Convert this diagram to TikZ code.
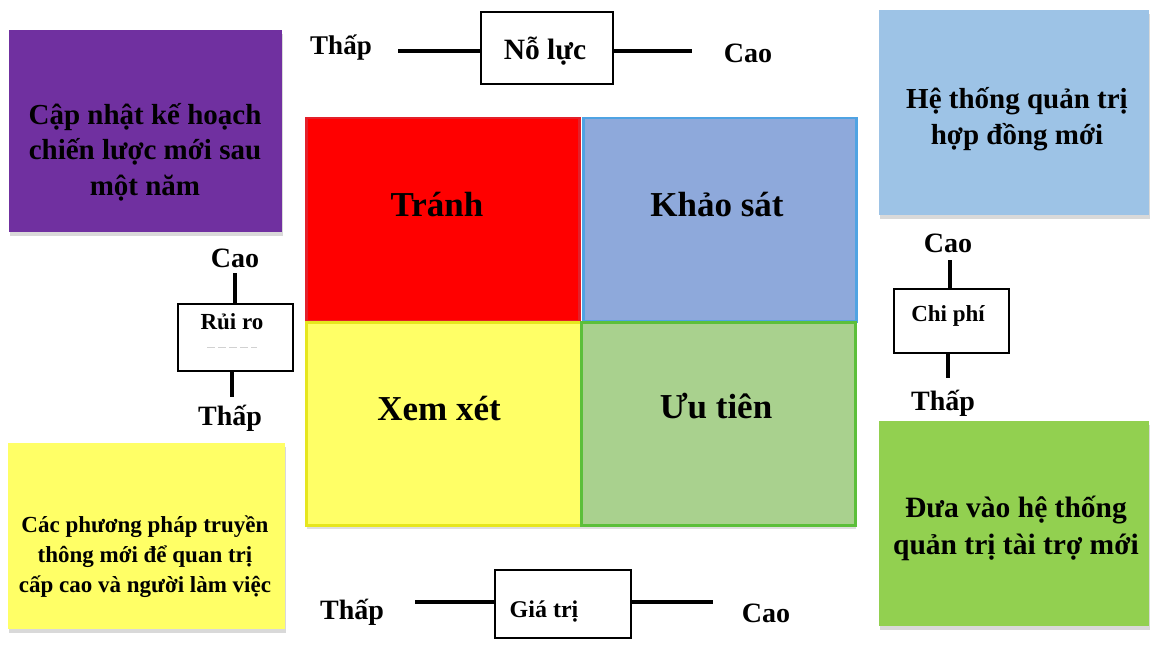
\documentclass[tikz,border=0pt]{standalone}
\usepackage{fontspec}
\setmainfont{Liberation Serif}
\usetikzlibrary{shadows}

\definecolor{boxpurple}{HTML}{7030A0}
\definecolor{boxsky}{HTML}{9DC3E6}
\definecolor{boxlime}{HTML}{92D050}
\definecolor{boxlemon}{HTML}{FFFF66}
\definecolor{qred}{HTML}{FF0000}
\definecolor{qredb}{HTML}{E3202A}
\definecolor{qblue}{HTML}{8EA9DB}
\definecolor{qblueb}{HTML}{4FA3E3}
\definecolor{qyellow}{HTML}{FFFF66}
\definecolor{qyellowb}{HTML}{E6E61E}
\definecolor{qgreen}{HTML}{A9D18E}
\definecolor{qgreenb}{HTML}{5CBF3A}

\tikzset{
  panel/.style={anchor=north west, inner sep=0pt,
    drop shadow={shadow xshift=1pt, shadow yshift=-4pt, opacity=.3}},
  quad/.style={anchor=north west, inner sep=0pt, line width=2.5pt,
    drop shadow={shadow xshift=1pt, shadow yshift=-4pt, opacity=.25}},
  quadtext/.style={font=\bfseries\fontsize{35}{40}\selectfont, anchor=base},
  paneltext/.style={align=center, font=\bfseries\fontsize{29}{35.5}\selectfont},
  axislabel/.style={font=\bfseries\fontsize{28}{30}\selectfont, anchor=base},
  axisbox/.style={draw, line width=2pt, fill=white, anchor=north west, inner sep=0pt},
  axisname/.style={font=\bfseries\fontsize{23}{25}\selectfont, anchor=base},
  axisline/.style={line width=3.5pt}
}

\begin{document}
\begin{tikzpicture}[x=1pt, y=-1pt]
\useasboundingbox (0,0) rectangle (1154,647);

% corner panels
\node[panel, fill=boxpurple, minimum width=273pt, minimum height=202pt] (plan) at (9,30) {};
\node[paneltext] (plantext) at (145,152) {Cập nhật kế hoạch\\chiến lược mới sau\\một năm};

\node[panel, fill=boxsky, minimum width=270pt, minimum height=205pt] (contract) at (879,10) {};
\node[paneltext] (contracttext) at (1017,119) {Hệ thống quản trị\\hợp đồng mới};

\node[panel, fill=boxlime, minimum width=270pt, minimum height=205pt] (funding) at (879,421) {};
\node[paneltext, font=\bfseries\fontsize{29.5}{37}\selectfont] (fundingtext) at (1016,528) {Đưa vào hệ thống\\quản trị tài trợ mới};

\node[panel, fill=boxlemon, minimum width=277pt, minimum height=186pt] (comm) at (8,443) {};
\node[paneltext, font=\bfseries\fontsize{23}{30}\selectfont] (commtext) at (145,557) {Các phương pháp truyền\\thông mới để quan trị\\cấp cao và người làm việc};

% the 2x2 matrix
\node[quad, fill=qred, draw=qredb, minimum width=273pt, minimum height=203pt] (avoid) at (305,117) {};
\node[quad, fill=qblue, draw=qblueb, minimum width=273pt, minimum height=203pt] (survey) at (582,117) {};
\node[quad, fill=qyellow, draw=qyellowb, minimum width=275pt, minimum height=203pt] (consider) at (305,321) {};
\node[quad, fill=qgreen, draw=qgreenb, minimum width=274pt, minimum height=203pt] (priority) at (580,321) {};

\node[quadtext] (avoidtext) at (437,217) {Tránh};
\node[quadtext] (surveytext) at (717,217) {Khảo sát};
\node[quadtext] (considertext) at (439,420) {Xem xét};
\node[quadtext] (prioritytext) at (716,418) {Ưu tiên};

% top axis: effort
\node[axisbox, minimum width=132pt, minimum height=72pt] (effort) at (480,11) {};
\node[axisname, font=\bfseries\fontsize{29.5}{31}\selectfont] (efforttext) at (545,60) {Nỗ lực};
\node[axislabel, font=\bfseries\fontsize{27}{30}\selectfont] (effortlow) at (341,55) {Thấp};
\node[axislabel] (efforthigh) at (748,63) {Cao};
\coordinate (effortL) at (398,51);
\coordinate (effortR) at (692,51);
\draw[axisline] (effortL) -- (effort.west |- effortL);
\draw[axisline] (effort.east |- effortR) -- (effortR);

% bottom axis: value
\node[axisbox, minimum width=136pt, minimum height=68pt] (value) at (494,569) {};
\node[axisname, font=\bfseries\fontsize{24}{26}\selectfont] (valuetext) at (544,617) {Giá trị};
\node[axislabel] (valuelow) at (352,619) {Thấp};
\node[axislabel] (valuehigh) at (766,622) {Cao};
\coordinate (valueL) at (415,602);
\coordinate (valueR) at (713,602);
\draw[axisline] (valueL) -- (value.west |- valueL);
\draw[axisline] (value.east |- valueR) -- (valueR);

% left axis: risk
\node[axisbox, minimum width=115pt, minimum height=67pt] (risk) at (177,303) {};
\node[axisname] (risktext) at (232,329) {Rủi ro};
\draw[black!18, line width=0.8pt, dash pattern=on 8pt off 3pt] (207,347) -- (257,347);
\node[axislabel] (riskhigh) at (235,267) {Cao};
\node[axislabel] (risklow) at (230,425) {Thấp};
\coordinate (riskT) at (235,273);
\coordinate (riskB) at (232,397);
\draw[axisline] (riskT) -- (riskT |- risk.north);
\draw[axisline] (riskB |- risk.south) -- (riskB);

% right axis: cost
\node[axisbox, minimum width=115pt, minimum height=64pt] (cost) at (893,288) {};
\node[axisname] (costtext) at (948,321) {Chi phí};
\node[axislabel] (costhigh) at (948,253) {Cao};
\node[axislabel] (costlow) at (943,410) {Thấp};
\coordinate (costT) at (950,260);
\coordinate (costB) at (948,378);
\draw[axisline] (costT) -- (costT |- cost.north);
\draw[axisline] (costB |- cost.south) -- (costB);
\end{tikzpicture}
\end{document}
